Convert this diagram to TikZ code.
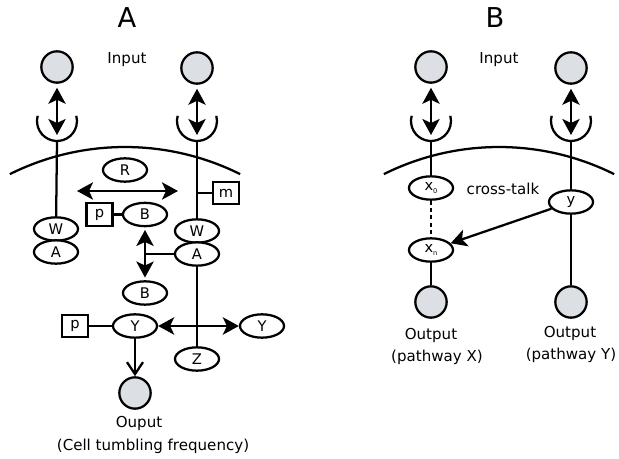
\documentclass[tikz,border=0pt]{standalone}
\usepackage{fontspec}
\setmainfont{DejaVu Sans}
\usetikzlibrary{arrows.meta, shapes.geometric}
\definecolor{sigfill}{RGB}{220, 224, 228}
\tikzset{
  sig/.style = {circle, draw, fill = sigfill, minimum size = 23.5pt, inner sep = 0pt},
  prot/.style = {ellipse, draw, fill = white, minimum width = 33pt, minimum height = 17.5pt, inner sep = 0pt, font = \fontsize{11}{13}\selectfont},
  modbox/.style = {rectangle, draw, fill = white, minimum width = 19.5pt, minimum height = 17pt, inner sep = 0pt, font = \fontsize{11}{13}\selectfont},
  lbl/.style = {font = \fontsize{11.3}{13}\selectfont},
  ttl/.style = {font = \fontsize{20.5}{24}\selectfont}
}
\newcommand{\subidx}[1]{\raisebox{-2pt}{\fontsize{5}{5}\selectfont #1}}

\begin{document}
\begin{tikzpicture}[x = 0.75pt, y = -0.75pt, line width = 1.7pt,
  >={Stealth[length = 12pt, width = 13pt, inset = 3pt]}]

\useasboundingbox (0, 0) rectangle (619, 459);

% panel A
\node[ttl] (ttlA) at (127, 18) {A};
\node[lbl] (inpA) at (127, 60) {Input};
\node[sig] (inAL) at (57, 67) {};
\node[sig] (inAR) at (197, 68) {};

\coordinate (recAL) at (57, 121);
\coordinate (recAR) at (197, 121);
\coordinate (stemAL) at (57, 141);
\coordinate (stemAR) at (197, 141);
\coordinate (tipAL) at (57, 135);
\coordinate (tipAR) at (197, 135);
\draw ([shift = {(195:20)}]recAL) arc[start angle = 195, end angle = -15, radius = 20];
\draw ([shift = {(195:20)}]recAR) arc[start angle = 195, end angle = -15, radius = 20];
\draw[<->, shorten < = 3pt] (inAL) -- (tipAL);
\draw[<->, shorten < = 3pt] (inAR) -- (tipAR);

\coordinate (memA) at (125, 405);
\draw ([shift = {(243.5:258)}]memA) arc[start angle = 243.5, end angle = 296.5, radius = 258];

\node[prot] (rA) at (125, 170) {R};
\coordinate (arLA) at (77, 191);
\coordinate (arRA) at (178, 191);
\draw[<->] (arLA) -- (arRA);

\node[modbox] (mA) at (226, 193) {m};
\coordinate (jmA) at (197, 193);
\draw (jmA) -- (mA);

\node[prot] (wAL) at (56, 229) {W};
\node[prot] (aAL) at (56, 252) {A};
\draw (stemAL) -- (wAL);

\node[prot] (wAR) at (197, 231) {W};
\node[prot] (aAR) at (197, 254) {A};
\draw (stemAR) -- (wAR);

\node[modbox] (pA1) at (99.5, 214.5) {p};
\node[prot] (bA1) at (145, 214.5) {B};
\draw (pA1) -- (bA1);
\node[prot] (bA2) at (145, 293) {B};
\draw[<->, shorten < = 2pt, shorten > = 2pt] (bA1) -- (bA2);
\draw (aAR) -- (aAR -| bA1);

\node[prot] (zA) at (197, 359) {Z};
\draw (aAR) -- (zA);

\node[prot] (yA1) at (135, 326) {Y};
\node[prot] (yA2) at (262, 326) {Y};
\node[modbox] (pA2) at (75, 326) {p};
\draw (pA2) -- (yA1);
\draw[<->] (yA1) -- (yA2);

\node[sig] (outA) at (135, 393) {};
\draw[-{Straight Barb[length = 9pt, width = 12pt]}] (yA1) -- (outA);
\node[lbl] (ouptA) at (139, 423) {Ouput};
\node[lbl] (freqA) at (153, 446) {(Cell tumbling frequency)};

% panel B
\node[ttl] (ttlB) at (495, 18) {B};
\node[lbl] (inpB) at (499, 60) {Input};
\node[sig] (inBL) at (431, 67) {};
\node[sig] (inBR) at (571, 68) {};

\coordinate (recBL) at (431, 121);
\coordinate (recBR) at (571, 121);
\coordinate (stemBL) at (431, 141);
\coordinate (stemBR) at (571, 141);
\coordinate (tipBL) at (431, 135);
\coordinate (tipBR) at (571, 135);
\draw ([shift = {(195:20)}]recBL) arc[start angle = 195, end angle = -15, radius = 20];
\draw ([shift = {(195:20)}]recBR) arc[start angle = 195, end angle = -15, radius = 20];
\draw[<->, shorten < = 3pt] (inBL) -- (tipBL);
\draw[<->, shorten < = 3pt] (inBR) -- (tipBR);

\coordinate (memB) at (499, 405);
\draw ([shift = {(243.5:258)}]memB) arc[start angle = 243.5, end angle = 296.5, radius = 258];

\node[prot] (x0B) at (431, 188) {x\subidx{0}};
\node[lbl] (xtalk) at (503, 189) {cross-talk};
\node[prot] (yB) at (571, 202) {y};
\node[prot] (xnB) at (431, 250) {x\subidx{n}};
\node[sig] (outBL) at (431, 302) {};
\node[sig] (outBR) at (571, 302) {};

\draw (stemBL) -- (x0B);
\draw[dash pattern = on 3pt off 2.5pt] (x0B) -- (xnB);
\draw (xnB) -- (outBL);
\draw (stemBR) -- (yB) -- (outBR);
\draw[->] (yB) -- (xnB);

\node[lbl] (outXl) at (431, 335) {Output};
\node[lbl] (pathX) at (437, 357) {(pathway X)};
\node[lbl] (outYl) at (570, 333) {Output};
\node[lbl] (pathY) at (571, 355) {(pathway Y)};

\end{tikzpicture}
\end{document}
